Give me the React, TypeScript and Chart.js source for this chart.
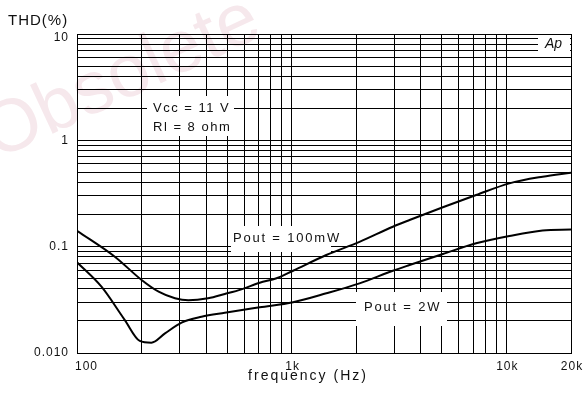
import React, { useEffect, useRef } from "react";
import { Chart, registerables } from "chart.js";

Chart.register(...registerables);

// ---- data ----
const FREQ_100MW = [100, 150, 200, 240, 286, 330, 408, 488, 583, 710, 850, 1015, 1450, 2070, 2960, 3540, 5060, 7230, 10330, 14750, 20000];
const THD_100MW = [0.141, 0.0805, 0.0486, 0.0377, 0.0327, 0.0313, 0.0327, 0.0359, 0.0397, 0.0458, 0.0504, 0.0594, 0.0835, 0.111, 0.154, 0.178, 0.2345, 0.306, 0.394, 0.455, 0.496];

const FREQ_2W = [100, 130, 167, 196, 222, 257, 307, 380, 488, 710, 1015, 1450, 2070, 2960, 3540, 5060, 7230, 10330, 14750, 20000];
const THD_2W = [0.0713, 0.042, 0.0204, 0.013, 0.0125, 0.0153, 0.0193, 0.0219, 0.0239, 0.0269, 0.030, 0.0364, 0.0452, 0.0594, 0.0672, 0.0853, 0.1076, 0.126, 0.142, 0.145];

const X_LABEL_VALUES = [100, 1000, 10000, 20000];
const X_LABEL_TEXT = ["100", "1k", "10k", "20k"];
const Y_LABEL_VALUES = [10, 1, 0.1, 0.01];
const Y_LABEL_TEXT = ["10", "1", "0.1", "0.010"];
const DECADE_STEPS = [1, 2, 3, 4, 5, 6, 7, 8, 9];

const X_MIN = 100;
const X_MAX = 20000;
const Y_MIN = 0.01;
const Y_MAX = 10;

const FONT = '"Liberation Sans", Arial, sans-serif';

function logGrid(min: number, max: number) {
  const out: number[] = [];
  for (let e = Math.floor(Math.log10(min)); e <= Math.ceil(Math.log10(max)); e++) {
    for (const s of DECADE_STEPS) {
      const v = parseFloat((s * Math.pow(10, e)).toPrecision(6));
      if (v >= min * 0.999 && v <= max * 1.001) out.push(v);
    }
  }
  return out;
}

function spacedText(ctx: CanvasRenderingContext2D, text: string, x: number, y: number, spacing: number) {
  (ctx as any).letterSpacing = spacing + "px";
  ctx.fillText(text, x, y);
  (ctx as any).letterSpacing = "0px";
}

const decorPlugin = {
  id: "decor",
  beforeDraw(chart: any) {
    const { ctx, width, height } = chart;
    ctx.save();
    ctx.fillStyle = "#ffffff";
    ctx.fillRect(0, 0, width, height);
    // watermark
    ctx.translate(-4, 160);
    ctx.rotate((-25 * Math.PI) / 180);
    ctx.font = `74px ${FONT}`;
    ctx.fillStyle = "#f6e8ec";
    ctx.textBaseline = "alphabetic";
    ctx.textAlign = "left";
    ctx.fillText("Obsolete", 0, 0);
    ctx.restore();
  },
  beforeDatasetsDraw(chart: any) {
    const { ctx } = chart;
    ctx.save();
    ctx.fillStyle = "#ffffff";
    ctx.fillRect(147, 96, 87, 40);
    ctx.fillRect(231, 226, 100, 26);
    ctx.fillRect(356, 292, 91, 34);
    ctx.fillRect(538, 35, 32, 18);

    ctx.fillStyle = "#111";
    ctx.textBaseline = "middle";
    ctx.textAlign = "left";
    ctx.font = `13px ${FONT}`;
    spacedText(ctx, "Vcc = 11 V", 153, 108, 1.5);
    spacedText(ctx, "Rl = 8 ohm", 153, 127, 1.5);
    spacedText(ctx, "Pout = 100mW", 233, 238, 1.8);
    spacedText(ctx, "Pout = 2W", 364, 307, 1.8);
    ctx.font = `italic 14px ${FONT}`;
    ctx.fillText("Ap", 545, 44);
    ctx.restore();
  },
  afterDraw(chart: any) {
    const { ctx } = chart;
    const xs = chart.scales.x;
    const ys = chart.scales.y;
    ctx.save();
    ctx.fillStyle = "#111";
    ctx.textBaseline = "middle";
    ctx.font = `12px ${FONT}`;
    // y tick labels
    ctx.textAlign = "right";
    Y_LABEL_VALUES.forEach((v, i) => {
      let py = ys.getPixelForValue(v);
      if (py < ys.top + 4) py = ys.top + 4;
      spacedText(ctx, Y_LABEL_TEXT[i], 69, py, 1);
    });
    // x tick labels
    X_LABEL_VALUES.forEach((v, i) => {
      const px = xs.getPixelForValue(v);
      if (i === 0) {
        ctx.textAlign = "left";
        spacedText(ctx, X_LABEL_TEXT[i], px - 2, 367, 1);
      } else {
        ctx.textAlign = "center";
        spacedText(ctx, X_LABEL_TEXT[i], px + 1, 367, 1);
      }
    });
    // titles
    ctx.textAlign = "left";
    ctx.font = `15px ${FONT}`;
    spacedText(ctx, "THD(%)", 8, 21, 1);
    ctx.textAlign = "center";
    ctx.font = `14px ${FONT}`;
    spacedText(ctx, "frequency (Hz)", 308, 376, 2);
    ctx.restore();
  },
};

export default function App() {
  const canvasRef = useRef<HTMLCanvasElement | null>(null);

  useEffect(() => {
    const canvas = canvasRef.current;
    if (!canvas) return;
    const gridOpts = { color: "#000", lineWidth: 1, drawTicks: false };
    const chart = new Chart(canvas, {
      type: "line",
      data: {
        datasets: [
          {
            label: "Pout = 100mW",
            data: FREQ_100MW.map((f, i) => ({ x: f, y: THD_100MW[i] })),
            borderColor: "#000",
            borderWidth: 2,
            pointRadius: 0,
            fill: false,
            cubicInterpolationMode: "monotone",
          },
          {
            label: "Pout = 2W",
            data: FREQ_2W.map((f, i) => ({ x: f, y: THD_2W[i] })),
            borderColor: "#000",
            borderWidth: 2,
            pointRadius: 0,
            fill: false,
            cubicInterpolationMode: "monotone",
          },
        ],
      },
      options: {
        responsive: false,
        animation: false,
        events: [],
        layout: { padding: { left: 0, top: 34, right: 16, bottom: 0 } },
        plugins: {
          legend: { display: false },
          tooltip: { enabled: false },
          title: { display: false },
        },
        scales: {
          x: {
            type: "logarithmic",
            min: X_MIN,
            max: X_MAX,
            afterBuildTicks: (s: any) => {
              s.ticks = logGrid(X_MIN, X_MAX).map((v) => ({ value: v }));
            },
            afterFit: (s: any) => {
              s.height = 52;
            },
            ticks: { display: false },
            grid: gridOpts,
            border: { display: true, color: "#000", width: 1 },
          },
          y: {
            type: "logarithmic",
            min: Y_MIN,
            max: Y_MAX,
            afterBuildTicks: (s: any) => {
              s.ticks = logGrid(Y_MIN, Y_MAX).map((v) => ({ value: v }));
            },
            afterFit: (s: any) => {
              s.width = 77;
            },
            ticks: { display: false },
            grid: gridOpts,
            border: { display: true, color: "#000", width: 1 },
          },
        },
      } as any,
      plugins: [decorPlugin],
    });
    return () => chart.destroy();
  }, []);

  return (
    <div style={{ position: "fixed", left: 0, top: 0, width: 587, height: 405, background: "#fff" }}>
      <canvas ref={canvasRef} width={587} height={405} style={{ display: "block" }} />
    </div>
  );
}
